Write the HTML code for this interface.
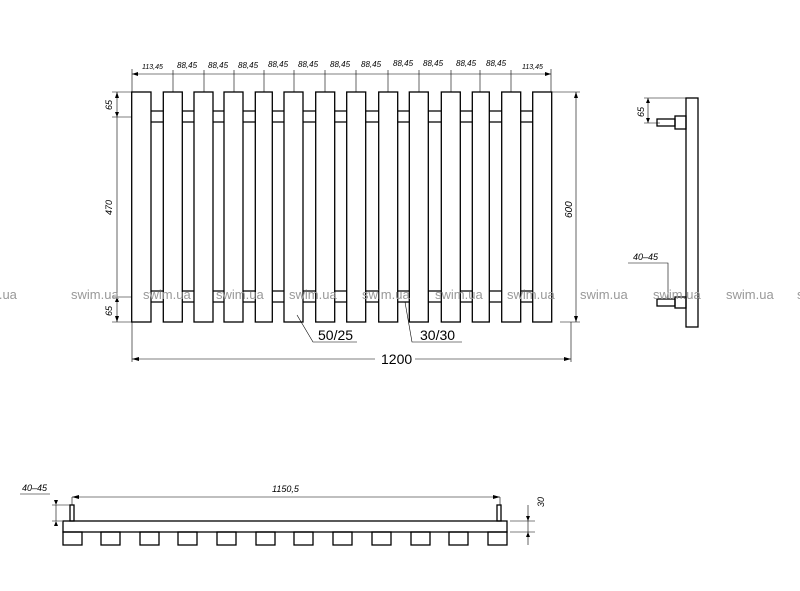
<!DOCTYPE html>
<html><head><meta charset="utf-8"><style>body{margin:0;background:#fff}svg{display:block}</style></head><body>
<svg width="800" height="591" viewBox="0 0 800 591" xmlns="http://www.w3.org/2000/svg" font-family="Liberation Sans, sans-serif">
<g fill="none" stroke="#000" stroke-width="1.3">
<!-- front bars -->
<g id="bars">
<rect x="131.7" y="92" width="19.3" height="230"/><rect x="163.3" y="92" width="19" height="230"/><rect x="194" y="92" width="19" height="230"/><rect x="224" y="92" width="19" height="230"/><rect x="255.3" y="92" width="17" height="230"/><rect x="284" y="92" width="19" height="230"/><rect x="315.7" y="92" width="19" height="230"/><rect x="346.7" y="92" width="19" height="230"/><rect x="378.7" y="92" width="19" height="230"/><rect x="409.3" y="92" width="19" height="230"/><rect x="441.3" y="92" width="19" height="230"/><rect x="472.3" y="92" width="17" height="230"/><rect x="501.7" y="92" width="19" height="230"/><rect x="532.7" y="92" width="19" height="230"/>
</g>
<path d="M151 111H163.3M151 122H163.3M182.3 111H194M182.3 122H194M213 111H224M213 122H224M243 111H255.3M243 122H255.3M272.3 111H284M272.3 122H284M303 111H315.7M303 122H315.7M334.7 111H346.7M334.7 122H346.7M365.7 111H378.7M365.7 122H378.7M397.7 111H409.3M397.7 122H409.3M428.3 111H441.3M428.3 122H441.3M460.3 111H472.3M460.3 122H472.3M489.3 111H501.7M489.3 122H501.7M520.7 111H532.7M520.7 122H532.7"/>
<path d="M151 291H163.3M151 302H163.3M182.3 291H194M182.3 302H194M213 291H224M213 302H224M243 291H255.3M243 302H255.3M272.3 291H284M272.3 302H284M303 291H315.7M303 302H315.7M334.7 291H346.7M334.7 302H346.7M365.7 291H378.7M365.7 302H378.7M397.7 291H409.3M397.7 302H409.3M428.3 291H441.3M428.3 302H441.3M460.3 291H472.3M460.3 302H472.3M489.3 291H501.7M489.3 302H501.7M520.7 291H532.7M520.7 302H532.7"/>
</g>
<g stroke="#000" stroke-width="0.6" fill="none">
<!-- top dim -->
<path d="M132 74H551M132 69V92M551 69V92M173 70V92M204 70V92M234 70V92M264 70V92M294 70V92M325 70V92M356 70V92M388 70V92M419 70V92M451 70V92M480 70V92M511 70V92"/>
<!-- left dims -->
<path d="M117 92V322M112 92H132M112 117H132M112 297H132M112 322H132"/>
<!-- right 600 -->
<path d="M576 92V322M551 92H580M560 322H580"/>
<!-- 1200 -->
<path d="M132 322V362M571 322V362M132 359H375M415 359H571"/>
<!-- leaders -->
<path d="M297 315L313 342H357M405 302L412 342H462"/>
<!-- side view dims -->
<path d="M648 98V123M644 98H686M644 123H660M628 263H668V298"/>
<!-- bottom view dims -->
<path d="M72 497H500M56 505V521M20 494H50M52 505H70M52 521H62M528 505V545M510 521H535M510 532H535M72 497V505M500 497V505"/>
</g>
<g fill="#000">
<path d="M132 74l6-2v4zM551 74l-6-2v4zM117 92l-2 6h4zM117 322l-2-6h4zM576 92l-2 6h4zM576 322l-2-6h4zM132 359l7-2v4zM571 359l-7-2v4zM72 497l7-2v4zM500 497l-7-2v4zM648 98l-2 5h4zM648 123l-2-5h4zM117 117l-2-5h4zM117 297l-2 5h4zM56 505l-2-5h4zM56 521l-2 5h4zM528 521l-2-5h4zM528 532l-2 5h4z"/>
</g>
<!-- side view -->
<g fill="none" stroke="#000" stroke-width="1.3">
<rect x="686" y="98" width="12" height="229"/>
<rect x="675" y="116" width="11" height="13"/><rect x="657" y="119" width="18" height="7"/>
<rect x="675" y="297" width="11" height="11"/><rect x="657" y="299" width="18" height="7"/>
<!-- bottom view -->
<rect x="63" y="521" width="444" height="11"/>
<rect x="70" y="505" width="4" height="16"/><rect x="497" y="505" width="4" height="16"/>
<rect x="63" y="532" width="19" height="13"/><rect x="101" y="532" width="19" height="13"/><rect x="140" y="532" width="19" height="13"/><rect x="178" y="532" width="19" height="13"/><rect x="217" y="532" width="19" height="13"/><rect x="256" y="532" width="19" height="13"/><rect x="294" y="532" width="19" height="13"/><rect x="333" y="532" width="19" height="13"/><rect x="372" y="532" width="19" height="13"/><rect x="411" y="532" width="19" height="13"/><rect x="449" y="532" width="19" height="13"/><rect x="488" y="532" width="19" height="13"/>
</g>
<g font-size="8" font-style="italic" fill="#000">
<text x="142" y="69" font-size="7">113,45</text><text x="177" y="68">88,45</text><text x="208" y="68">88,45</text><text x="238" y="68">88,45</text><text x="268" y="67">88,45</text><text x="298" y="67">88,45</text><text x="330" y="67">88,45</text><text x="361" y="67">88,45</text><text x="393" y="66">88,45</text><text x="423" y="66">88,45</text><text x="456" y="66">88,45</text><text x="486" y="66">88,45</text><text x="522" y="69" font-size="7">113,45</text>
<text transform="translate(112,110) rotate(-90)" font-size="9">65</text>
<text transform="translate(112,215) rotate(-90)" font-size="9">470</text>
<text transform="translate(112,316) rotate(-90)" font-size="9">65</text>
<text transform="translate(572,218) rotate(-90)" font-size="10">600</text>
<text transform="translate(644,117) rotate(-90)" font-size="9">65</text>
<text x="633" y="260" font-size="9">40–45</text>
<text x="22" y="491" font-size="9">40–45</text>
<text x="272" y="492" font-size="9">1150,5</text>
<text transform="translate(544,507) rotate(-90)" font-size="9">30</text>
</g>
<g font-size="14" fill="#000">
<text x="318" y="340">50/25</text><text x="420" y="340">30/30</text><text x="381" y="364">1200</text>
</g>
<g font-size="13" fill="#999">
<text x="-12" y="299">m.ua</text><text x="71" y="299">swim.ua</text><text x="143" y="299">swim.ua</text><text x="216" y="299">swim.ua</text><text x="289" y="299">swim.ua</text><text x="362" y="299">swim.ua</text><text x="435" y="299">swim.ua</text><text x="507" y="299">swim.ua</text><text x="580" y="299">swim.ua</text><text x="653" y="299">swim.ua</text><text x="726" y="299">swim.ua</text><text x="797" y="299">s</text>
</g>
</svg>
</body></html>
